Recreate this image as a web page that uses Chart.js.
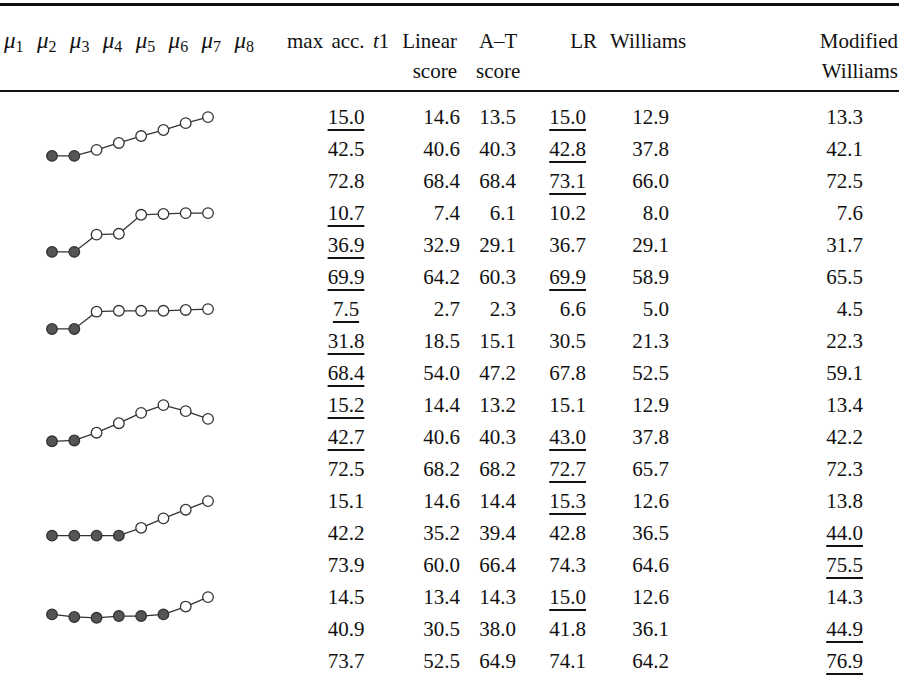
<!DOCTYPE html>
<html>
<head>
<meta charset="utf-8">
<script src="https://cdn.jsdelivr.net/npm/chart.js@4"></script>
<style>
  body { margin: 0; background: #fff; }
  #page { position: relative; width: 899px; height: 683px; overflow: hidden;
          font-family: "Liberation Serif", "DejaVu Serif", serif; font-size: 21px; color: #111; }
  .rule { position: absolute; left: 0; width: 899px; background: #111; }
  .hd { position: absolute; white-space: nowrap; line-height: 30px; }
  .mu { display: flex; justify-content: space-between; width: 250px; font-size: 23px; }
  .cell { position: absolute; height: 32px; line-height: 32px; white-space: nowrap; }
  .u { text-decoration: underline; text-decoration-thickness: 2px; text-underline-offset: 5px; }
  .mini { position: absolute; }
  sub { font-size: 16px; vertical-align: -4px; line-height: 0; }
</style>
</head>
<body>
<div id="page"></div>
<script>
// table values, one array per column (18 rows, 3 per profile)
const maxAcc      = [15.0, 42.5, 72.8, 10.7, 36.9, 69.9, 7.5, 31.8, 68.4, 15.2, 42.7, 72.5, 15.1, 42.2, 73.9, 14.5, 40.9, 73.7];
const linearScore = [14.6, 40.6, 68.4, 7.4, 32.9, 64.2, 2.7, 18.5, 54.0, 14.4, 40.6, 68.2, 14.6, 35.2, 60.0, 13.4, 30.5, 52.5];
const atScore     = [13.5, 40.3, 68.4, 6.1, 29.1, 60.3, 2.3, 15.1, 47.2, 13.2, 40.3, 68.2, 14.4, 39.4, 66.4, 14.3, 38.0, 64.9];
const lrScore     = [15.0, 42.8, 73.1, 10.2, 36.7, 69.9, 6.6, 30.5, 67.8, 15.1, 43.0, 72.7, 15.3, 42.8, 74.3, 15.0, 41.8, 74.1];
const williams    = [12.9, 37.8, 66.0, 8.0, 29.1, 58.9, 5.0, 21.3, 52.5, 12.9, 37.8, 65.7, 12.6, 36.5, 64.6, 12.6, 36.1, 64.2];
const modWilliams = [13.3, 42.1, 72.5, 7.6, 31.7, 65.5, 4.5, 22.3, 59.1, 13.4, 42.2, 72.3, 13.8, 44.0, 75.5, 14.3, 44.9, 76.9];

// row indices that are underlined in each column
const underMaxAcc = [0, 3, 4, 5, 6, 7, 8, 9, 10];
const underLR     = [0, 1, 2, 5, 10, 11, 12, 15];
const underModW   = [13, 14, 16, 17];

// mean profiles mu1..mu8 (relative heights) and how many leading means are equal (filled)
const muLabels = ['μ1', 'μ2', 'μ3', 'μ4', 'μ5', 'μ6', 'μ7', 'μ8'];
const profile1 = [40, 40, 47, 55, 63, 70, 78, 85];
const profile2 = [40, 40, 60, 61, 83, 84, 85, 85];
const profile3 = [62, 62, 82, 83, 83, 83, 84, 85];
const profile4 = [43, 44, 53, 64, 76, 85, 78, 69];
const profile5 = [45, 45, 45, 45, 54, 65, 75, 85];
const profile6 = [65, 62, 61, 63, 63, 65, 74, 85];
const profiles = [profile1, profile2, profile3, profile4, profile5, profile6];
const nullCount = [2, 2, 2, 2, 4, 6];

const page = document.getElementById('page');
const ROW0 = 101, ROWH = 32;

function add(cls, html, style) {
  const d = document.createElement('div');
  d.className = cls;
  d.innerHTML = html;
  Object.assign(d.style, style);
  page.appendChild(d);
  return d;
}

// rules
add('rule', '', { top: '3px', height: '3px' });
add('rule', '', { top: '90px', height: '2px' });

// header
const muHtml = muLabels.map(m => '<span><i>μ</i><sub>' + m.slice(1) + '</sub></span>').join('');
add('hd mu', muHtml, { left: '4px', top: '26px' });
add('hd', 'max acc. <i>t</i>1', { left: '287px', top: '26px', wordSpacing: '3px' });
add('hd', 'Linear<br>score', { right: (899 - 457) + 'px', top: '26px', textAlign: 'right' });
add('hd', 'A–T<br>score', { left: '476px', top: '26px', textAlign: 'center' });
add('hd', 'LR', { right: (899 - 597) + 'px', top: '26px' });
add('hd', 'Williams', { left: '610px', top: '26px' });
add('hd', 'Modified<br>Williams', { right: '1px', top: '26px', textAlign: 'right' });

// numeric columns
const columns = [
  { vals: maxAcc, under: underMaxAcc, center: 346 },
  { vals: linearScore, under: [], right: 460 },
  { vals: atScore, under: [], right: 516 },
  { vals: lrScore, under: underLR, right: 586 },
  { vals: williams, under: [], right: 669 },
  { vals: modWilliams, under: underModW, right: 863 }
];
columns.forEach(col => {
  col.vals.forEach((v, i) => {
    const txt = v.toFixed(1);
    const html = col.under.includes(i) ? '<span class="u">' + txt + '</span>' : txt;
    const st = { top: (ROW0 + i * ROWH) + 'px' };
    if (col.center !== undefined) {
      st.left = (col.center - 50) + 'px'; st.width = '100px'; st.textAlign = 'center';
    } else {
      st.right = (899 - col.right) + 'px'; st.textAlign = 'right';
    }
    add('cell', html, st);
  });
});

// mini line charts, one per group of three rows
profiles.forEach((prof, g) => {
  const canvas = document.createElement('canvas');
  canvas.className = 'mini';
  canvas.width = 190;
  canvas.height = 96;
  canvas.style.left = '35px';
  canvas.style.top = (ROW0 + g * 3 * ROWH) + 'px';
  canvas.style.width = '190px';
  canvas.style.height = '96px';
  page.appendChild(canvas);
  const fills = prof.map((_, k) => k < nullCount[g] ? '#555555' : '#ffffff');
  new Chart(canvas.getContext('2d'), {
    type: 'line',
    data: {
      labels: muLabels,
      datasets: [{
        data: prof,
        borderColor: '#333333',
        borderWidth: 1.3,
        pointRadius: 5.3,
        pointBorderWidth: 1.3,
        pointBorderColor: '#333333',
        pointBackgroundColor: fills,
        tension: 0,
        clip: false
      }]
    },
    options: {
      responsive: false,
      animation: false,
      layout: { padding: { left: 17, right: 17, top: 0, bottom: 0 } },
      plugins: { legend: { display: false }, tooltip: { enabled: false } },
      scales: {
        x: { display: false, offset: false },
        y: { display: false, min: 0, max: 96 }
      }
    }
  });
});
</script>
</body>
</html>
